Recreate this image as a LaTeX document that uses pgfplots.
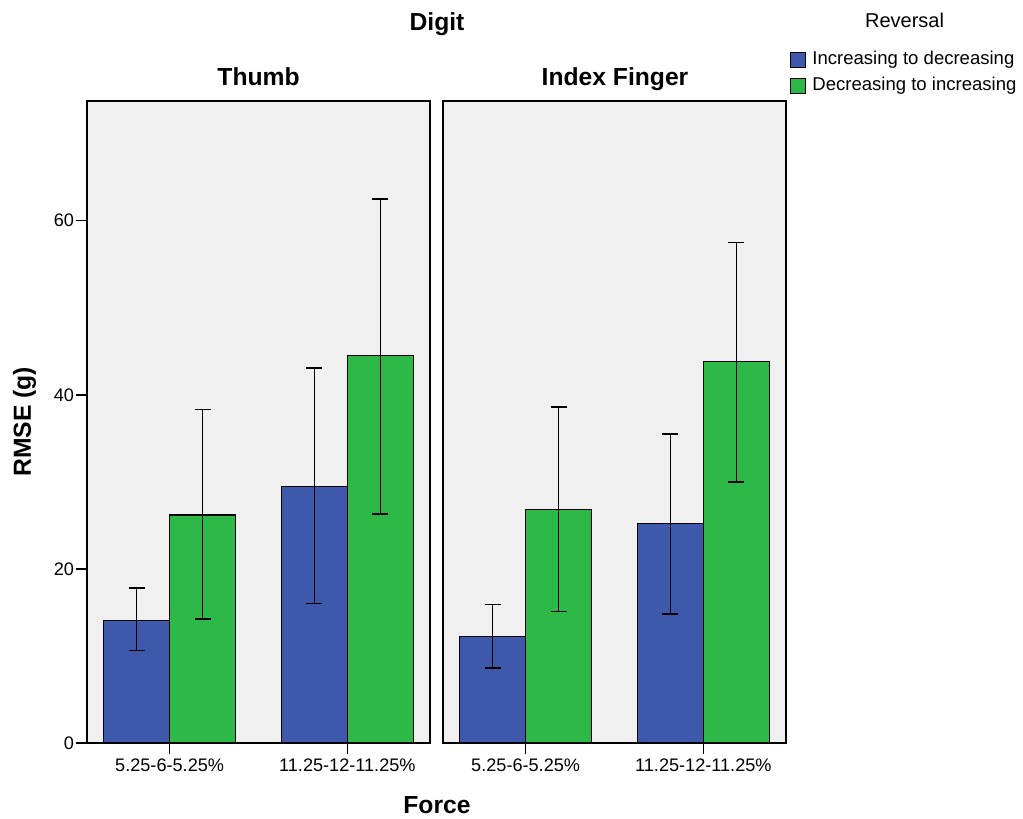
\documentclass[border=0pt]{standalone}
\usepackage{pgfplots}
\pgfplotsset{compat=1.18}
\usepackage{fontspec}
\setmainfont{Liberation Sans}
\definecolor{spssblue}{HTML}{3E58AC}
\definecolor{spssgreen}{HTML}{2EB848}
\definecolor{panelbg}{HTML}{F0F0F0}
\pgfplotsset{
  panel/.style={
    ybar=0pt, bar width=49.5pt,
    scale only axis, width=257.25pt, height=481.5pt,
    xmin=-0.465, xmax=1.465, ymin=0, ymax=73.75,
    axis background/.style={fill=panelbg},
    axis line style={black, line width=1pt},
    xtick={0,1}, xticklabels={5.25-6-5.25\%, 11.25-12-11.25\%},
    xtick pos=bottom, tick align=outside, major tick length=8.5pt,
    tick style={black, line width=1.2pt},
    ticklabel style={font=\fontsize{13.6}{16}\selectfont},
    yticklabel style={inner sep=1pt},
    /pgf/number format/assume math mode=true,
    anchor=south west,
    clip=false,
  },
  bars/.style={fill=#1, draw=black, line width=0.9pt,
    error bars/.cd, y dir=both, y explicit,
    error bar style={black, line width=1.1pt},
    error mark options={black, line width=1.1pt, mark size=6pt, rotate=90}},
}
\begin{document}
\begin{tikzpicture}
\path[use as bounding box] (0pt,0pt) rectangle (767.25pt,613.5pt);
% Thumb
\begin{axis}[panel, at={(65.25pt,56.25pt)}, ytick={0,20,40,60}, ytick pos=left]
\addplot[bars=spssblue] coordinates {
  (0,14.1) += (0,3.7) -= (0,3.5)
  (1,29.5) += (0,13.6) -= (0,13.5)
};
\addplot[bars=spssgreen] coordinates {
  (0,26.2) += (0,12.1) -= (0,11.95)
  (1,44.5) += (0,18.0) -= (0,18.2)
};
\end{axis}
% Index finger
\begin{axis}[panel, at={(332.25pt,56.25pt)}, ytick=\empty,
  legend style={at={(1.0116,1.0779)}, anchor=north west, draw=none, fill=none,
    font=\fontsize{13.9}{16}\selectfont, row sep=6.5pt, column sep=4.5pt, inner sep=0pt,
    nodes={inner sep=0pt, text height=10pt, text depth=3pt}},
  legend cell align=left,
  legend image code/.code={\draw[#1, line width=0.9pt] (0pt,-5.6pt) rectangle (11.25pt,5.6pt);}]
\addplot[bars=spssblue] coordinates {
  (0,12.2) += (0,3.7) -= (0,3.6)
  (1,25.2) += (0,10.3) -= (0,10.4)
};
\addlegendentry{Increasing to decreasing}
\addplot[bars=spssgreen] coordinates {
  (0,26.8) += (0,11.8) -= (0,11.7)
  (1,43.8) += (0,13.7) -= (0,13.8)
};
\addlegendentry{Decreasing to increasing}
\end{axis}
\node[anchor=base, font=\fontsize{18.5}{22}\selectfont\bfseries] at (327.75pt,590.25pt) {Digit};
\node[anchor=base, font=\fontsize{18.5}{22}\selectfont\bfseries] at (193.9pt,549pt) {Thumb};
\node[anchor=base, font=\fontsize{18.5}{22}\selectfont\bfseries] at (461.25pt,549pt) {Index Finger};
\node[anchor=base, rotate=90, font=\fontsize{18.5}{22}\selectfont\bfseries] at (23.25pt,297pt) {RMSE (g)};
\node[anchor=base, font=\fontsize{18.5}{22}\selectfont\bfseries] at (327.75pt,3.5pt) {Force};
\node[anchor=base, font=\fontsize{15}{18}\selectfont] at (678.4pt,592.5pt) {Reversal};
\end{tikzpicture}
\end{document}
